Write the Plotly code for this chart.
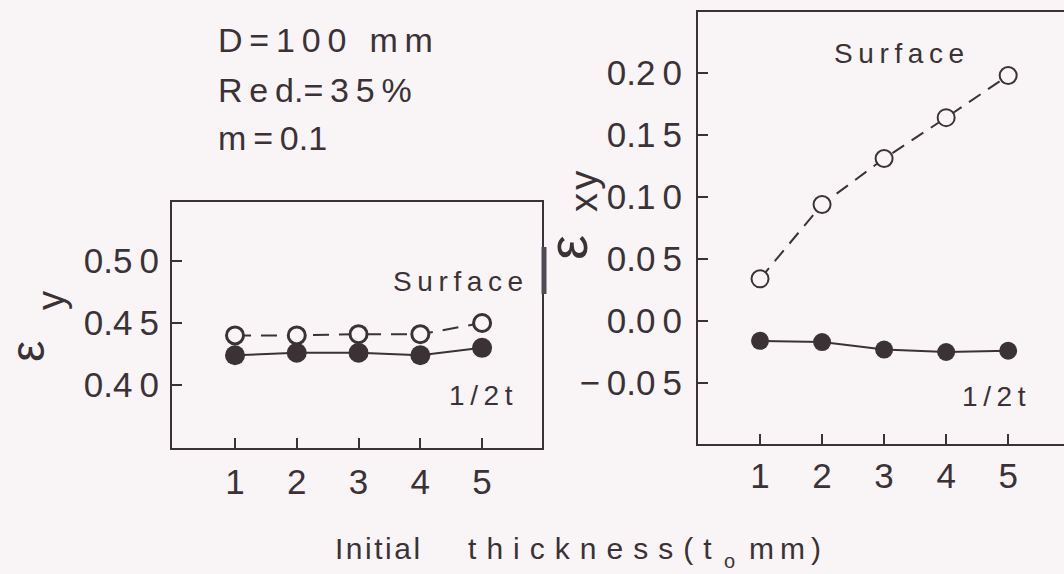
import plotly.graph_objects as go

# ---- data -------------------------------------------------------------
thickness = [1, 2, 3, 4, 5]                      # initial thickness t0 (mm)

ey_surface = [0.440, 0.440, 0.441, 0.441, 0.450]  # strain eps_y at surface
ey_half = [0.424, 0.426, 0.426, 0.424, 0.430]     # strain eps_y at 1/2 t

exy_surface = [0.034, 0.094, 0.131, 0.164, 0.198]  # shear strain eps_xy at surface
exy_half = [-0.016, -0.017, -0.023, -0.025, -0.024]  # shear strain eps_xy at 1/2 t

left_yticks = [0.40, 0.45, 0.50]
right_yticks = [-0.05, 0.00, 0.05, 0.10, 0.15, 0.20]
xtick_labels = ["1", "2", "3", "4", "5"]

# ---- style ------------------------------------------------------------
W, H = 1064, 574
BG = "#f9f5f7"
INK = "#3b3236"
FONT = "Liberation Sans, Arial, sans-serif"
THIN = "\u2009"
HAIR = "\u200a"
THIRD = "\u2004"


def track(s, gap=THIN):
    """Spread characters apart (wide-tracked typewriter lettering)."""
    return gap.join(s)


def tick_label(v):
    s = f"{abs(v):.2f}"
    s = s[:-1] + THIN + s[-1]
    if v < 0:
        s = "\u2212" + THIN + s
    return s


def px(x):
    return x / W


def py(y):
    return 1 - y / H


fig = go.Figure()

# left panel: eps_y
fig.add_trace(go.Scatter(
    x=thickness, y=ey_surface, xaxis="x", yaxis="y", mode="lines+markers",
    line=dict(color=INK, width=2, dash="16px,10px"),
    marker=dict(symbol="circle", size=17, color=BG, line=dict(color=INK, width=3)),
))
fig.add_trace(go.Scatter(
    x=thickness, y=ey_half, xaxis="x", yaxis="y", mode="lines+markers",
    line=dict(color=INK, width=2),
    marker=dict(symbol="circle", size=20, color=INK, line=dict(width=0)),
))

# right panel: eps_xy
fig.add_trace(go.Scatter(
    x=thickness, y=exy_surface, xaxis="x2", yaxis="y2", mode="lines+markers",
    line=dict(color=INK, width=2, dash="14px,9px"),
    marker=dict(symbol="circle", size=17, color=BG, line=dict(color=INK, width=2)),
))
fig.add_trace(go.Scatter(
    x=thickness, y=exy_half, xaxis="x2", yaxis="y2", mode="lines+markers",
    line=dict(color=INK, width=2),
    marker=dict(symbol="circle", size=18, color=INK, line=dict(width=0)),
))

tickfont = dict(family=FONT, size=35, color=INK)
common_x = dict(
    showgrid=False, zeroline=False, showline=True, linecolor=INK, linewidth=2,
    ticks="inside", ticklen=10, tickwidth=2, tickcolor=INK,
    tickvals=thickness, ticktext=xtick_labels, tickfont=tickfont,
)
common_y = dict(
    showgrid=False, zeroline=False, showline=True, linecolor=INK, linewidth=2,
    ticks="inside", ticklen=10, tickwidth=2, tickcolor=INK, tickfont=tickfont,
)

fig.update_layout(
    width=W, height=H,
    margin=dict(l=0, r=0, t=0, b=0),
    paper_bgcolor=BG, plot_bgcolor=BG,
    showlegend=False,
    xaxis=dict(common_x, domain=[px(172), px(542)], range=[-0.02, 5.97],
               anchor="y", mirror=True, ticklabelstandoff=2),
    yaxis=dict(common_y, domain=[py(448), py(202)], range=[0.3492, 0.5476],
               anchor="x", mirror=True,
               tickvals=left_yticks, ticktext=[tick_label(v) for v in left_yticks],
               ticklabelstandoff=4),
    xaxis2=dict(common_x, domain=[px(698), 1.0], range=[0.0, 5.9],
                anchor="y2", mirror=True, ticklabelstandoff=0),
    yaxis2=dict(common_y, domain=[py(444), py(12)], range=[-0.0992, 0.2492],
                anchor="x2", mirror=False,
                tickvals=right_yticks, ticktext=[tick_label(v) for v in right_yticks],
                ticklabelstandoff=7),
)


def note(x, y, text, size, xanchor="center", angle=0):
    fig.add_annotation(
        x=px(x), y=py(y), xref="paper", yref="paper", text=text,
        showarrow=False, xanchor=xanchor, yanchor="middle", textangle=angle,
        font=dict(family=FONT, size=size, color=INK),
    )


# rolling conditions
note(216, 40, track("D=100 mm"), 34, xanchor="left")
note(216, 90, "R" + THIN + "e" + THIN + "d.=" + THIN + "3" + THIN + "5" + THIN + "%", 34, xanchor="left")
note(216, 138, "m" + THIN + "=" + THIN + "0.1", 34, xanchor="left")

# series labels
note(458, 281, track("Surface"), 28)
note(481, 395, track("1/2t"), 28)
note(899, 53, track("Surface"), 28)
note(994, 396, track("1/2t"), 28)

# y-axis titles (rotated)
note(27, 352, "ε", 48, angle=-90)
note(51, 301, "y", 38, angle=-90)
note(567, 248, "ε", 56, angle=-90)
note(584, 192, track("xy", HAIR), 38, angle=-90)

# shared x-axis title: Initial thickness(t_o mm)
note(333, 548, track("Initial", HAIR) + "\u2003" + THIN + THIN + THIN
     + track("thickness(t", THIRD), 30, xanchor="left")
note(729, 561, "o", 20)
note(747, 548, track("mm)", THIN), 30, xanchor="left")

# dark border fragment at the edge of the left frame
fig.add_shape(type="line", xref="paper", yref="paper",
              x0=px(544), x1=px(544), y0=py(247), y1=py(294),
              line=dict(color="#4f4a56", width=5))

fig.write_html("out.html")
